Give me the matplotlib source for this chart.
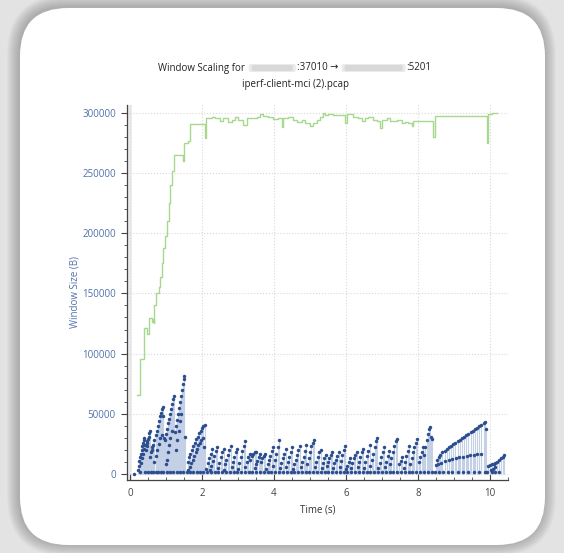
import matplotlib.pyplot as plt
from matplotlib.patches import FancyBboxPatch
from matplotlib.transforms import IdentityTransform
from matplotlib.ticker import MultipleLocator

plt.rcParams['font.family'] = ['Open Sans', 'DejaVu Sans']

# receive window (green step line): (time s, bytes)
rwin_pts = [
    (0.20, 65500), (0.27, 95500), (0.38, 121000), (0.47, 116000), (0.52, 129500),
    (0.60, 126000), (0.64, 129000), (0.66, 125000), (0.68, 140000), (0.72, 150000),
    (0.80, 155000), (0.83, 164000), (0.88, 175000), (0.92, 188000), (0.98, 198000),
    (1.03, 210000), (1.08, 225000), (1.12, 240000), (1.17, 252000), (1.22, 265000),
    (1.47, 260000), (1.50, 275000), (1.60, 277000), (1.68, 290700), (2.07, 279000),
    (2.10, 296000), (2.27, 296800), (2.36, 295400), (2.50, 293400), (2.59, 295400),
    (2.73, 292600), (2.82, 294000), (2.92, 296800), (3.01, 294000), (3.15, 289900),
    (3.24, 295400), (3.52, 296800), (3.61, 299000), (3.70, 297300), (3.84, 296800),
    (3.98, 294600), (4.12, 295400), (4.21, 288500), (4.26, 295400), (4.40, 296200),
    (4.54, 294000), (4.63, 292600), (4.77, 294000), (4.86, 291200), (5.00, 289000),
    (5.09, 291200), (5.19, 294000), (5.28, 296800), (5.37, 300100), (5.42, 298200),
    (5.51, 299000), (5.65, 298200), (5.97, 291200), (6.02, 299000), (6.20, 296800),
    (6.34, 295400), (6.44, 293400), (6.53, 295400), (6.62, 296800), (6.76, 294000),
    (6.85, 293400), (6.94, 287100), (6.99, 294000), (7.13, 295400), (7.22, 293400),
    (7.41, 294000), (7.55, 291200), (7.64, 292600), (7.73, 291200), (7.82, 289000),
    (7.87, 293400), (8.43, 280200), (8.47, 297300), (9.91, 274600), (9.95, 299000),
    (10.05, 300100), (10.19, 300100),
]

# bytes in flight (blue dots), by phase
flight_p1 = [
    (0.10, 0),
    (0.22, 3000), (0.24, 7000), (0.26, 11000), (0.28, 14000), (0.30, 17000),
    (0.32, 20000), (0.34, 23000), (0.36, 26000), (0.38, 28000), (0.40, 30000),
    (0.31, 9000), (0.34, 13000), (0.37, 17000), (0.40, 21000), (0.43, 24000), (0.46, 27000),
    (0.44, 20000), (0.46, 23000), (0.48, 26000), (0.50, 29000), (0.52, 31000),
    (0.54, 34000), (0.56, 36000),
    (0.55, 14000), (0.58, 18000), (0.61, 22000),
    (0.62, 20000), (0.65, 24000), (0.68, 28000), (0.71, 32000), (0.74, 36000),
    (0.77, 40000), (0.80, 44000), (0.83, 48000), (0.86, 51000), (0.89, 54000), (0.91, 56000),
    (0.68, 10000), (0.72, 15000), (0.76, 20000), (0.80, 25000), (0.84, 30000), (0.88, 32000),
    (0.93, 48000), (0.94, 30000),
    (0.96, 28000), (0.99, 33000), (1.02, 37000), (1.05, 42000), (1.08, 46000),
    (1.11, 50000), (1.14, 54000), (1.17, 58000), (1.20, 62000), (1.22, 65000),
    (1.00, 8000), (1.03, 12000), (1.06, 18000), (1.09, 24000), (1.12, 30000), (1.16, 36000),
    (1.24, 35000), (1.27, 40000), (1.30, 45000), (1.33, 50000), (1.36, 55000),
    (1.39, 60000), (1.42, 65000), (1.45, 70000), (1.47, 75000), (1.49, 79000), (1.51, 81000),
    (1.27, 20000), (1.31, 28000), (1.35, 36000), (1.39, 44000), (1.43, 50000), (1.53, 31000),
]
flight_p2 = [
    (1.60, 10000), (1.64, 14000), (1.68, 17000), (1.72, 20000), (1.76, 23000),
    (1.80, 26000), (1.84, 29000), (1.88, 31000), (1.92, 34000), (1.96, 36000),
    (2.00, 38000), (2.04, 40000), (2.07, 41000),
    (1.62, 3000), (1.66, 6000), (1.70, 9000), (1.74, 12000), (1.78, 15000),
    (1.82, 18000), (1.86, 21000), (1.90, 24000), (1.94, 26000), (1.98, 28000),
    (2.02, 30000), (2.06, 22000),
]
flight_p3 = [
    (2.12, 4000), (2.16, 9000), (2.20, 13000), (2.24, 17000), (2.28, 21000),
    (2.22, 3000), (2.26, 7000), (2.30, 11000), (2.34, 15000), (2.38, 19000), (2.42, 22000),
    (2.44, 5000), (2.48, 9000), (2.52, 14000), (2.56, 18000), (2.60, 21000),
    (2.60, 3000), (2.64, 8000), (2.68, 12000), (2.72, 16000), (2.76, 20000), (2.80, 23000),
    (2.82, 6000), (2.86, 10000), (2.90, 14000), (2.94, 18000), (2.98, 21000),
    (3.00, 4000), (3.04, 9000), (3.08, 14000), (3.12, 19000), (3.16, 23000), (3.20, 27000),
    (3.20, 6000), (3.24, 10000), (3.28, 14000), (3.32, 17000),
    (3.34, 12000), (3.38, 15000), (3.42, 17000), (3.46, 18000), (3.50, 18500),
    (3.46, 5000), (3.50, 8000), (3.54, 11000), (3.58, 14000), (3.62, 17000),
    (3.64, 10000), (3.68, 13000), (3.72, 15000), (3.76, 17000),
    (3.78, 4000), (3.82, 8000), (3.86, 12000), (3.90, 15000), (3.94, 19000), (3.98, 22000),
    (3.98, 7000), (4.02, 12000), (4.06, 17000), (4.10, 22000), (4.14, 28000),
    (4.16, 5000), (4.20, 9000), (4.24, 13000), (4.28, 17000), (4.32, 21000),
    (4.34, 6000), (4.38, 10000), (4.42, 14000), (4.46, 18000), (4.50, 22000),
    (4.52, 4000), (4.56, 8000), (4.60, 12000), (4.64, 16000), (4.68, 20000), (4.72, 23000),
    (4.74, 6000), (4.78, 10000), (4.82, 14000), (4.86, 19000), (4.90, 24000),
    (4.92, 8000), (4.96, 13000), (5.00, 18000), (5.04, 23000), (5.08, 26000), (5.12, 28000),
    (5.14, 6000), (5.18, 10000), (5.22, 14000), (5.26, 18000), (5.30, 20000),
    (5.32, 5000), (5.36, 9000), (5.40, 13000), (5.44, 16000),
    (5.46, 7000), (5.50, 10000), (5.54, 13000), (5.58, 16000), (5.62, 18000),
    (5.64, 5000), (5.68, 9000), (5.72, 12000), (5.76, 15000), (5.80, 18000),
    (5.82, 6000), (5.86, 11000), (5.90, 16000), (5.94, 20000), (5.97, 23000),
    (6.00, 4000), (6.04, 7000), (6.08, 10000), (6.12, 13000),
    (6.14, 5000), (6.18, 9000), (6.22, 13000), (6.26, 16000), (6.30, 18000),
    (6.32, 6000), (6.36, 10000), (6.40, 14000), (6.44, 18000), (6.48, 21000),
    (6.50, 5000), (6.54, 10000), (6.58, 15000), (6.62, 19000), (6.66, 24000),
    (6.68, 7000), (6.72, 12000), (6.76, 17000), (6.80, 22000), (6.84, 27000), (6.87, 30000),
    (6.90, 5000), (6.94, 9000), (6.98, 14000), (7.02, 18000), (7.06, 22000),
    (7.08, 6000), (7.12, 10000), (7.16, 15000), (7.20, 19000),
    (7.22, 8000), (7.26, 13000), (7.30, 18000), (7.34, 23000), (7.38, 27000), (7.41, 29000),
    (7.48, 8000), (7.52, 11000), (7.56, 14000),
    (7.60, 5000), (7.64, 10000), (7.68, 15000), (7.72, 19000), (7.76, 23000),
    (7.78, 8000), (7.82, 13000), (7.86, 18000), (7.90, 22000), (7.94, 26000), (7.98, 29000),
    (8.02, 10000), (8.06, 14000), (8.10, 18000), (8.14, 22000),
    (8.16, 16000), (8.20, 22000), (8.24, 28000), (8.27, 33000), (8.30, 37000), (8.32, 39000),
    (8.36, 31000), (8.38, 29000),
]
flight_p4 = [
    (8.52, 12000), (8.57, 14000), (8.62, 16000), (8.68, 18000), (8.74, 19500),
    (8.80, 21000), (8.86, 22000), (8.92, 23500), (8.98, 24500), (9.04, 26000),
    (9.10, 27000), (9.16, 28500), (9.22, 29500), (9.28, 31000), (9.34, 32000),
    (9.40, 33500), (9.46, 34500), (9.52, 36000), (9.58, 37000), (9.64, 38500),
    (9.70, 39500), (9.76, 41000), (9.82, 42000), (9.86, 43500), (9.90, 37000),
    (8.49, 7500), (8.55, 8000), (8.65, 9500), (8.75, 10500), (8.85, 11500),
    (8.95, 12500), (9.05, 13000), (9.15, 14000), (9.25, 14500), (9.35, 15000),
    (9.45, 15500), (9.55, 16000), (9.65, 16500), (9.75, 17000),
]
flight_p5 = [
    (9.95, 7000), (10.00, 7500), (10.05, 8000), (10.10, 8500), (10.15, 9000),
    (10.20, 10000), (10.25, 11500), (10.30, 13000), (10.35, 14500), (10.38, 16000),
    (10.02, 3000), (10.08, 4500), (10.14, 6000),
]
# single-segment dots near the floor
low_t = [
    0.28, 0.42, 0.50, 0.57, 0.64, 0.72, 0.78, 0.85, 0.92, 1.03, 1.11, 1.19, 1.31, 1.39,
    1.47, 1.58, 1.68, 1.76, 1.85, 1.95, 2.04,
    2.14, 2.24, 2.35, 2.45, 2.56, 2.66, 2.77, 2.88, 2.98, 3.08, 3.19, 3.30, 3.40, 3.50,
    3.61, 3.72, 3.82, 3.92, 4.03, 4.14, 4.24, 4.35, 4.46, 4.56, 4.66, 4.77, 4.88, 4.98,
    5.09, 5.19, 5.30, 5.41, 5.51, 5.62, 5.72, 5.83, 5.94, 6.04, 6.15, 6.26, 6.36, 6.46,
    6.57, 6.68, 6.78, 6.89, 7.00, 7.10, 7.21, 7.31, 7.42, 7.53, 7.63, 7.74, 7.84, 7.95,
    8.06, 8.16, 8.27, 8.38,
    8.47, 8.58, 8.70, 8.82, 8.95, 9.10, 9.25, 9.40, 9.55, 9.70, 9.85, 9.92,
    10.05, 10.15, 10.25,
]
low_v = 1500

title_left = "Window Scaling for "
title_mid = ":37010 \u2192 "
title_right = ":5201"
subtitle = "iperf-client-mci (2).pcap"

BLUE = '#2c4e8e'
BLUE_LINE = '#c3d0e6'
GREEN = '#a8d88e'
TICK_BLUE = '#5072aa'

W, H = 564, 553
fig = plt.figure(figsize=(W / 100, H / 100), dpi=100)
fig.patch.set_facecolor('#e3e3e3')

# card shadow + card
for i in range(12, 0, -1):
    fig.add_artist(FancyBboxPatch((20 - i - 1, 8 - i + 1), 525 + 2 * i, 537 + 2 * i,
                                  boxstyle='round,pad=0,rounding_size=%d' % (48 + i),
                                  transform=IdentityTransform(), facecolor='#000000',
                                  edgecolor='none', alpha=0.018, zorder=0))
fig.add_artist(FancyBboxPatch((20, 8), 525, 537, boxstyle='round,pad=0,rounding_size=48',
                              transform=IdentityTransform(), facecolor='white',
                              edgecolor='none', zorder=0))

ax = fig.add_axes([127 / W, 73 / H, 381 / W, 375 / H])
ax.set_facecolor('none')

fl = flight_p1 + flight_p2 + flight_p3 + flight_p4 + flight_p5
ft = [p[0] for p in fl] + low_t
fv = [p[1] for p in fl] + [low_v] * len(low_t)

ax.vlines(ft, 0, fv, color=BLUE_LINE, lw=0.8, zorder=2)
ax.plot(ft, fv, 'o', color=BLUE, ms=2.5, mew=0, zorder=3)
ax.step([p[0] for p in rwin_pts], [p[1] for p in rwin_pts], where='post',
        color=GREEN, lw=1.0, zorder=4)

ax.set_xlim(-0.083, 10.5)
ax.set_ylim(-5000, 306500)
ax.axvspan(-0.083, 0.05, color='#ececec', lw=0, zorder=1)

ax.xaxis.set_major_locator(MultipleLocator(2))
ax.xaxis.set_minor_locator(MultipleLocator(0.5))
ax.yaxis.set_major_locator(MultipleLocator(50000))
ax.yaxis.set_minor_locator(MultipleLocator(10000))
ax.grid(True, which='major', color='#d9d9d9', ls=':', lw=0.8, zorder=0)

for s in ['top', 'right']:
    ax.spines[s].set_visible(False)
for s in ['left', 'bottom']:
    ax.spines[s].set_color('#444444')
    ax.spines[s].set_linewidth(0.9)

ax.tick_params(axis='x', which='major', direction='in', length=4, width=0.8,
               color='#444444', labelsize=7, labelcolor='#444444', pad=6)
ax.tick_params(axis='x', which='minor', direction='in', length=2, width=0.6, color='#444444')
ax.tick_params(axis='y', which='major', direction='out', length=4, width=0.8,
               color='#444444', labelsize=7, labelcolor=TICK_BLUE, pad=4)
ax.tick_params(axis='y', which='minor', direction='out', length=2, width=0.6, color='#444444')

ax.set_xlabel('Time (s)', fontsize=7, color='#333333', labelpad=4)
ax.set_ylabel('Window Size (B)', fontsize=7, color=TICK_BLUE, labelpad=1)

# title built from pieces with blurred address blocks
renderer = fig.canvas.get_renderer()
ty = 1 - 68 / H
pieces = []
for s in [title_left, title_mid, title_right]:
    t = fig.text(0, ty, s, fontsize=7, color='#222222', va='center', ha='left')
    pieces.append((t, t.get_window_extent(renderer).width))
blur_w = [49, 66]
total = sum(w for _, w in pieces) + sum(blur_w)
x = 295 - total / 2
for i, (t, w) in enumerate(pieces):
    t.set_x(x / W)
    x += w
    if i < 2:
        bw = blur_w[i]
        for k, (c, a) in enumerate([('#dcdcdc', 0.6), ('#cccccc', 0.6)]):
            fig.add_artist(FancyBboxPatch((x + 1 + k * 3, H - 68 - 4 + k), bw - 2 - k * 6, 8 - 2 * k,
                                          boxstyle='round,pad=0,rounding_size=2',
                                          transform=IdentityTransform(), facecolor=c,
                                          edgecolor='none', alpha=a, zorder=3))
        x += bw
fig.text(295 / W, 1 - 85 / H, subtitle, fontsize=7, color='#222222', ha='center', va='center')

fig.savefig('out.png', dpi=100, facecolor=fig.get_facecolor())
